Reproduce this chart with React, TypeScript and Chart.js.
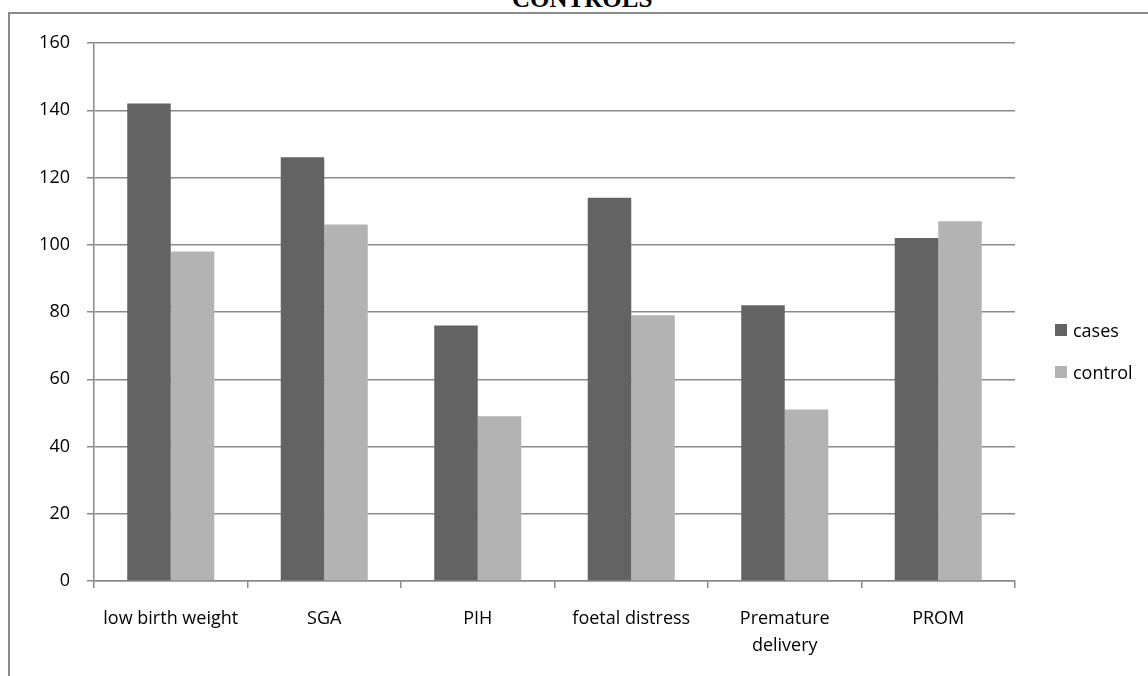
import React, { useEffect, useRef } from "react";
import { Chart, registerables } from "chart.js";

Chart.register(...registerables);

const categories: (string | string[])[] = [
  "low birth weight",
  "SGA",
  "PIH",
  "foetal distress",
  ["Premature", "delivery"],
  "PROM",
];
const casesValues = [142, 126, 76, 114, 82, 102];
const controlValues = [98, 106, 49, 79, 51, 107];
const seriesNames = ["cases", "control"];
const seriesColors = ["#636363", "#b3b3b3"];
const titleText = "CONTROLS";

const FONT = "'Open Sans', sans-serif";
const GRID = "#8a8a8a";

export default function App() {
  const ref = useRef<HTMLCanvasElement>(null);

  useEffect(() => {
    if (!ref.current) return;
    const chart = new Chart(ref.current, {
      type: "bar",
      data: {
        labels: categories,
        datasets: [
          {
            label: seriesNames[0],
            data: casesValues,
            backgroundColor: seriesColors[0],
            categoryPercentage: 0.567,
            barPercentage: 1,
          },
          {
            label: seriesNames[1],
            data: controlValues,
            backgroundColor: seriesColors[1],
            categoryPercentage: 0.567,
            barPercentage: 1,
          },
        ],
      },
      options: {
        animation: false,
        responsive: false,
        devicePixelRatio: 1,
        layout: { padding: { left: 0, top: 43, right: 133, bottom: 0 } },
        plugins: {
          legend: { display: false },
          title: { display: false },
          tooltip: { enabled: false },
        },
        scales: {
          x: {
            grid: {
              display: true,
              drawOnChartArea: false,
              drawTicks: true,
              tickLength: 7,
              color: GRID,
              lineWidth: 1.5,
              offset: true,
            },
            border: { color: GRID, width: 1.5 },
            ticks: {
              color: "#000",
              font: { family: FONT, size: 18, lineHeight: 1.5 },
              padding: 17,
              maxRotation: 0,
              autoSkip: false,
            },
            afterFit: (scale: any) => {
              scale.height = 95;
            },
          },
          y: {
            min: 0,
            max: 160,
            ticks: {
              stepSize: 20,
              color: "#000",
              font: { family: FONT, size: 18 },
              padding: 17,
            },
            grid: {
              color: GRID,
              lineWidth: 1.5,
              tickLength: 7,
            },
            border: { color: GRID, width: 1.5 },
            afterFit: (scale: any) => {
              scale.width = 94;
            },
          },
        },
      },
    });
    return () => chart.destroy();
  }, []);

  return (
    <div
      style={{
        position: "fixed",
        left: 0,
        top: 0,
        width: 1148,
        height: 676,
        overflow: "hidden",
        background: "#fff",
      }}
    >
      <div
        style={{
          position: "absolute",
          left: 8,
          top: 12,
          width: 1300,
          height: 1000,
          border: "2px solid #8a8a8a",
        }}
      />
      <div
        style={{
          position: "absolute",
          left: 512,
          top: -14,
          fontFamily: "'Liberation Serif', serif",
          fontWeight: "bold",
          fontSize: 25,
          lineHeight: "25px",
          whiteSpace: "nowrap",
          color: "#000",
        }}
      >
        {titleText}
      </div>
      <canvas
        ref={ref}
        width={1148}
        height={676}
        style={{ position: "absolute", left: 0, top: 0, width: 1148, height: 676 }}
      />
      {seriesNames.map((name, i) => (
        <div
          key={name}
          style={{
            position: "absolute",
            left: 1055,
            top: 318 + i * 42,
            height: 24,
            display: "flex",
            alignItems: "center",
            fontFamily: FONT,
            fontSize: 18,
            color: "#000",
            whiteSpace: "nowrap",
          }}
        >
          <span
            style={{
              display: "inline-block",
              width: 12,
              height: 12,
              background: seriesColors[i],
              marginRight: 6,
            }}
          />
          {name}
        </div>
      ))}
    </div>
  );
}
